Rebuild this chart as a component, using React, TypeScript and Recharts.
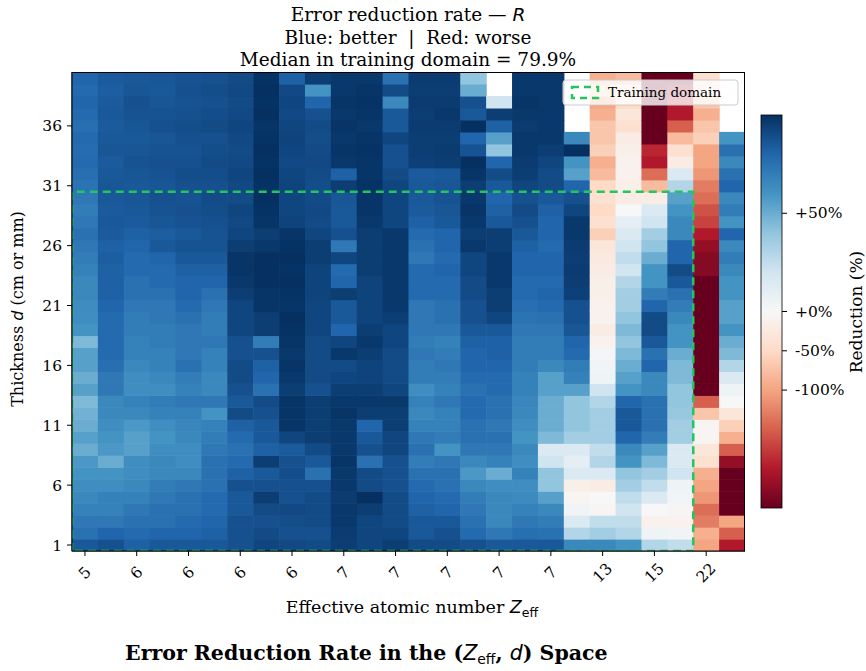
import { ScatterChart, Scatter, XAxis, YAxis } from "recharts";

// Zeff tick labels, shown on every other column (columns 0, 2, ..., 24)
const ZEFF_TICK_LABELS = ["5", "6", "6", "6", "6", "7", "7", "7", "7", "7", "13", "15", "22"];
const THICKNESS_TICKS = [1, 6, 11, 16, 21, 26, 31, 36];
const COLORBAR_TICKS = [50, 0, -50, -100];

// training domain corners (column index, thickness)
const TRAINING_BOX = [
  { x: -0.5, y: 0.5 },
  { x: -0.5, y: 30.5 },
  { x: 23.5, y: 30.5 },
  { x: 23.5, y: 0.5 },
  { x: -0.5, y: 0.5 },
];

// error reduction (%) per Zeff column, thickness d = 1 .. 40 (null = no data)
const REDUCTION_BY_COLUMN: (number | null)[][] = [
  [85, 75, 72, 68, 65, 62, 60, 58, 50, 55, 50, 48, 45, 55, 50, 55, 55, 45, 60, 62, 63, 65, 65, 68, 70, 72, 75, 72, 70, 72, 74, 76, 78, 77, 78, 76, 78, 80, 78, 80],
  [88, 80, 72, 68, 68, 62, 60, 50, 58, 60, 62, 65, 65, 72, 72, 76, 78, 78, 78, 78, 80, 82, 82, 82, 83, 82, 84, 85, 84, 85, 86, 85, 84, 86, 85, 84, 85, 84, 83, 84],
  [82, 78, 75, 72, 68, 65, 62, 62, 55, 55, 58, 65, 68, 62, 62, 65, 68, 68, 70, 70, 72, 75, 75, 78, 78, 80, 82, 84, 85, 86, 85, 86, 87, 86, 85, 86, 87, 88, 86, 85],
  [85, 80, 75, 75, 72, 70, 65, 65, 62, 60, 62, 68, 70, 62, 65, 68, 68, 70, 70, 72, 72, 75, 78, 78, 80, 85, 83, 86, 87, 88, 86, 87, 88, 87, 86, 88, 87, 86, 85, 86],
  [85, 80, 78, 75, 75, 72, 65, 62, 62, 65, 66, 68, 72, 68, 70, 75, 72, 72, 72, 75, 78, 80, 80, 82, 85, 87, 85, 87, 88, 87, 88, 89, 88, 87, 88, 89, 88, 87, 88, 87],
  [85, 82, 80, 78, 78, 75, 75, 75, 72, 70, 68, 60, 72, 65, 65, 68, 68, 72, 70, 70, 72, 75, 80, 82, 85, 87, 87, 88, 89, 90, 88, 89, 90, 89, 88, 90, 89, 88, 89, 88],
  [88, 88, 88, 85, 85, 88, 82, 78, 75, 78, 82, 90, 85, 88, 90, 90, 88, 88, 92, 92, 92, 95, 97, 98, 98, 95, 92, 91, 92, 90, 91, 92, 91, 90, 91, 92, 91, 90, 91, 90],
  [92, 90, 88, 90, 95, 88, 85, 95, 82, 85, 85, 88, 90, 75, 80, 82, 88, 70, 95, 95, 98, 98, 100, 100, 100, 97, 95, 98, 99, 100, 99, 100, 99, 100, 99, 98, 100, 99, 100, 99],
  [91, 88, 89, 91, 88, 88, 89, 88, 84, 92, 98, 98, 98, 95, 97, 98, 97, 98, 99, 100, 98, 99, 100, 99, 100, 99, 98, 93, 92, 92, 93, 92, 91, 92, 93, 92, 91, 92, 91, 82],
  [90, 88, 90, 90, 90, 88, 75, 85, 90, 95, 95, 95, 95, 88, 90, 90, 90, 90, 92, 92, 92, 93, 93, 93, 95, 95, 92, 90, 91, 90, 89, 90, 91, 90, 89, 90, 88, 80, 60, 95],
  [95, 96, 97, 97, 96, 97, 97, 98, 97, 97, 97, 98, 97, 95, 92, 90, 97, 92, 80, 85, 85, 95, 80, 78, 92, 72, 88, 85, 85, 86, 95, 82, 97, 98, 97, 98, 97, 98, 97, 97],
  [92, 92, 92, 95, 100, 90, 90, 75, 88, 85, 80, 95, 97, 95, 93, 93, 95, 97, 95, 93, 93, 93, 93, 95, 95, 95, 95, 97, 98, 98, 99, 98, 98, 99, 98, 97, 98, 99, 98, 97],
  [95, 92, 90, 90, 90, 88, 88, 88, 92, 92, 95, 95, 97, 92, 90, 90, 90, 92, 92, 95, 97, 97, 97, 97, 97, 97, 97, 92, 92, 92, 92, 90, 88, 88, 92, 85, 85, 65, 90, 75],
  [90, 85, 85, 82, 80, 78, 75, 70, 75, 72, 68, 65, 68, 62, 70, 70, 72, 70, 72, 72, 72, 78, 78, 78, 72, 75, 78, 82, 84, 85, 85, 84, 94, 95, 95, 96, 95, 96, 95, 96],
  [90, 88, 85, 80, 78, 75, 75, 72, 60, 70, 68, 68, 72, 68, 70, 72, 70, 68, 72, 75, 75, 78, 78, 80, 78, 80, 80, 85, 86, 87, 86, 85, 95, 96, 95, 96, 97, 96, 95, 96],
  [88, 78, 75, 72, 70, 65, 58, 65, 72, 75, 75, 78, 78, 75, 78, 80, 80, 82, 85, 88, 88, 90, 90, 92, 92, 97, 95, 97, 98, 97, 95, 98, 100, 87, 80, 100, 85, 88, 50, 40],
  [85, 72, 65, 65, 65, 62, 50, 68, 72, 75, 72, 75, 75, 78, 78, 80, 82, 82, 85, 92, 95, 95, 97, 97, 97, 95, 95, 85, 82, 80, 85, 90, 80, 40, 55, 82, 95, 20, null, null],
  [85, 76, 72, 68, 64, 62, 68, 62, 65, 60, 62, 65, 66, 68, 68, 70, 70, 70, 72, 74, 76, 78, 78, 80, 80, 82, 85, 88, 90, 88, 92, 95, 96, 97, 97, 96, 97, 98, 97, 97],
  [85, 75, 70, 65, 55, 40, 40, 20, 15, 45, 50, 50, 50, 55, 55, 65, 70, 70, 72, 75, 78, 80, 78, 80, 80, 78, 80, 80, 82, 85, 90, 90, 92, 95, 97, 97, 97, 97, 97, 97],
  [65, 30, 15, 3, -5, -15, 15, 10, 15, 35, 40, 40, 40, 55, 68, 70, 78, 80, 86, 88, 88, 94, 95, 96, 95, 96, 97, 97, 92, 88, 80, 55, 60, 100, 65, null, null, null, null, null],
  [65, 35, 25, -5, 0, -20, 15, 30, 25, 35, 35, 35, 30, 20, 5, 3, 2, -10, -20, -10, -10, -15, -15, -20, -25, -30, -60, -40, -50, -40, -50, -80, -90, -60, -70, -70, -90, -100, -60, -90],
  [60, 30, 25, 20, 25, 35, 40, 60, 65, 80, 85, 85, 80, 60, 55, 50, 45, 40, 45, 40, 35, 35, 30, 20, 25, 20, 15, 10, 0, -20, -15, -10, -10, -15, -20, -40, -30, -50, -40, -80],
  [30, 5, -10, 0, 15, 25, 35, 45, 55, 70, 75, 75, 75, 65, 65, 80, 75, 85, 90, 90, 80, 70, 60, 60, 50, 40, 35, 20, 15, -20, -80, -140, -200, -190, -250, -250, -250, -250, -250, -250],
  [25, 3, -10, -3, 3, 5, 20, 15, 15, 35, 35, 38, 40, 40, 45, 45, 50, 60, 60, 65, 70, 75, 85, 90, 80, 80, 65, 65, 60, 55, 30, 15, -20, -40, -80, -150, -200, -200, -220, -250],
  [-100, -90, -130, -140, -110, -100, -90, -40, -30, -5, -5, -70, -150, -250, -250, -250, -250, -250, -250, -250, -250, -250, -250, -230, -230, -220, -200, -170, -160, -140, -130, -110, -100, -100, -60, -70, -90, -70, -50, -40],
  [-200, -150, -100, -250, -250, -250, -250, -220, -150, -90, -60, -30, 0, 5, 15, 30, 45, 50, 60, 55, 55, 60, 60, 65, 70, 65, 80, 60, 70, 65, 80, 75, 65, 75, 60, null, null, null, null, null],
];

const VMIN = -250;
const VMAX = 100;

const W = 866;
const H = 671;
const PLOT = { left: 72, top: 72, right: 745, bottom: 551 };
const NCOL = REDUCTION_BY_COLUMN.length;
const NROW = REDUCTION_BY_COLUMN[0].length;
const CW = (PLOT.right - PLOT.left) / NCOL;
const CH = (PLOT.bottom - PLOT.top) / NROW;

const SERIF = "'DejaVu Serif', serif";
const SANS = "'DejaVu Sans', sans-serif";
const GREEN = "#22c55e";

// matplotlib RdBu
const RDBU = ["#67001f", "#b2182b", "#d6604d", "#f4a582", "#fddbc7", "#f7f7f7", "#d1e5f0", "#92c5de", "#4393c3", "#2166ac", "#053061"];

function norm(v: number) {
  const n = v >= 0 ? 0.5 + (0.5 * v) / VMAX : 0.5 - (0.5 * v) / VMIN;
  return Math.max(0, Math.min(1, n));
}

function hex(h: string) {
  return [1, 3, 5].map((i) => parseInt(h.slice(i, i + 2), 16));
}

function rdbu(t: number) {
  const p = t * (RDBU.length - 1);
  const i = Math.min(RDBU.length - 2, Math.floor(p));
  const f = p - i;
  const a = hex(RDBU[i]);
  const b = hex(RDBU[i + 1]);
  const c = a.map((x, k) => Math.round(x + (b[k] - x) * f));
  return `rgb(${c[0]},${c[1]},${c[2]})`;
}

const cells = REDUCTION_BY_COLUMN.flatMap((col, c) =>
  col.map((v, r) => ({ x: c, y: r + 1, v })).filter((d) => d.v !== null)
);

const HeatCell = (props: any) => {
  const { cx, cy, payload } = props;
  if (cx == null || cy == null) return null;
  return (
    <rect
      x={cx - CW / 2}
      y={cy - CH / 2}
      width={CW + 0.6}
      height={CH + 0.6}
      fill={rdbu(norm(payload.v))}
    />
  );
};

const NoDot = () => <g />;

const XTick = ({ x, y, payload }: any) => (
  <g transform={`translate(${x},${y + 15})`}>
    <text
      transform="rotate(-45)"
      textAnchor="middle"
      dominantBaseline="central"
      fontFamily={SERIF}
      fontSize={15.5}
      fill="#000"
    >
      {ZEFF_TICK_LABELS[Math.round(payload.value / 2)]}
    </text>
  </g>
);

const CB = { x: 761, y: 115, w: 21, h: 393 };

export default function App() {
  const cbY = (v: number) => CB.y + (1 - norm(v)) * CB.h;
  const stops = Array.from({ length: 41 }, (_, i) => i / 40);

  return (
    <div style={{ position: "absolute", left: 0, top: 0, width: W, height: H, background: "#fff" }}>
      <ScatterChart
        width={W}
        height={H}
        margin={{ top: PLOT.top, right: W - PLOT.right, bottom: 60, left: 12 }}
      >
        <XAxis
          type="number"
          dataKey="x"
          domain={[-0.5, NCOL - 0.5]}
          ticks={ZEFF_TICK_LABELS.map((_, i) => i * 2)}
          tick={<XTick />}
          tickSize={5}
          height={60}
          stroke="#000"
          interval={0}
          allowDataOverflow
        />
        <YAxis
          type="number"
          dataKey="y"
          domain={[0.5, NROW + 0.5]}
          ticks={THICKNESS_TICKS}
          tick={{ fill: "#000", fontSize: 15.5, fontFamily: SERIF }}
          tickSize={5}
          tickMargin={5}
          width={60}
          stroke="#000"
          interval={0}
          allowDataOverflow
        />
        <Scatter data={cells} shape={<HeatCell />} isAnimationActive={false} />
        <Scatter
          data={TRAINING_BOX}
          shape={<NoDot />}
          line={{ stroke: GREEN, strokeWidth: 2.5, strokeDasharray: "8 5" }}
          lineType="joint"
          isAnimationActive={false}
        />
      </ScatterChart>

      <svg width={W} height={H} style={{ position: "absolute", left: 0, top: 0, pointerEvents: "none" }}>
        <defs>
          <linearGradient id="cbGrad" x1="0" y1="0" x2="0" y2="1">
            {stops.map((s) => (
              <stop key={s} offset={s} stopColor={rdbu(1 - s)} />
            ))}
          </linearGradient>
        </defs>

        {/* axes frame (spines drawn above the image) */}
        <rect
          x={PLOT.left}
          y={PLOT.top + 0.5}
          width={PLOT.right - PLOT.left - 0.5}
          height={PLOT.bottom - PLOT.top - 0.5}
          fill="none"
          stroke="#000"
          strokeWidth={1}
        />

        {/* titles */}
        <g fontFamily={SERIF} fontSize={18.5} textAnchor="middle" fill="#000">
          <text x={408} y={21}>
            Error reduction rate — <tspan fontFamily={SANS} fontStyle="italic">R</tspan>
          </text>
          <text x={408} y={44} style={{ whiteSpace: "pre" }}>
            {"Blue: better  |  Red: worse"}
          </text>
          <text x={408} y={66}>Median in training domain = 79.9%</text>
        </g>

        {/* axis labels */}
        <text x={412} y={613} textAnchor="middle" fontFamily={SERIF} fontSize={17.5}>
          Effective atomic number <tspan fontFamily={SANS} fontStyle="italic">Z</tspan>
          <tspan fontFamily={SANS} fontSize={12.5} dy={4}>eff</tspan>
        </text>
        <text
          transform="translate(23,309) rotate(-90)"
          textAnchor="middle"
          fontFamily={SERIF}
          fontSize={16}
        >
          Thickness <tspan fontFamily={SANS} fontStyle="italic">d</tspan> (cm or mm)
        </text>

        {/* caption */}
        <text x={125} y={660} fontFamily={SERIF} fontSize={20.5} fontWeight="bold">
          Error Reduction Rate in the (<tspan fontFamily={SANS} fontStyle="italic" fontWeight="normal">Z</tspan>
          <tspan fontFamily={SANS} fontWeight="normal" fontSize={14} dy={4}>eff</tspan>
          <tspan dy={-4}>, </tspan>
          <tspan fontFamily={SANS} fontStyle="italic" fontWeight="normal">d</tspan>) Space
        </text>

        {/* colorbar */}
        <rect x={CB.x} y={CB.y} width={CB.w} height={CB.h} fill="url(#cbGrad)" stroke="#000" strokeWidth={0.8} />
        {COLORBAR_TICKS.map((t) => (
          <g key={t}>
            <line x1={CB.x + CB.w} x2={CB.x + CB.w + 5} y1={cbY(t)} y2={cbY(t)} stroke="#000" />
            <text x={CB.x + CB.w + 13} y={cbY(t) + 5} fontFamily={SERIF} fontSize={15.5} fill="#000">
              {t > 0 ? `+${t}%` : t === 0 ? "+0%" : `${t}%`}
            </text>
          </g>
        ))}
        <text
          transform="translate(862,312) rotate(-90)"
          textAnchor="middle"
          fontFamily={SERIF}
          fontSize={17}
        >
          Reduction (%)
        </text>

        {/* legend */}
        <rect x={563} y={80} width={175} height={25} rx={3} fill="#fff" fillOpacity={0.8} stroke="#ccc" />
        <rect x={572} y={87} width={26} height={11} fill="none" stroke={GREEN} strokeWidth={2.5} strokeDasharray="7 5" />
        <text x={608} y={97} fontFamily={SERIF} fontSize={13.5}>Training domain</text>
      </svg>
    </div>
  );
}
